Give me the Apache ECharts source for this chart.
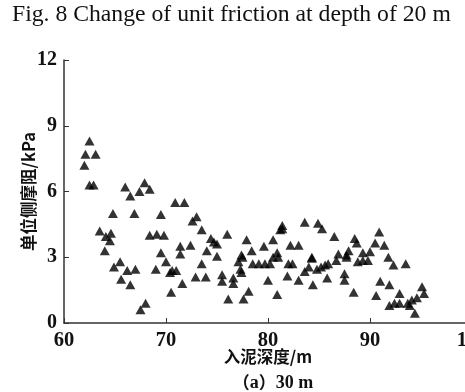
<!DOCTYPE html>
<html>
<head>
<meta charset="utf-8">
<script src="https://cdn.jsdelivr.net/npm/echarts@6/dist/echarts.min.js"></script>
<style>
  html, body { margin: 0; padding: 0; background: #fff; }
  #chart { width: 465px; height: 392px; }
</style>
</head>
<body>
<div id="chart"></div>
<script>
// Penetration depth (m) of each measurement
const depth = [
  62.5, 62.1, 63.1, 62.0, 62.5, 62.9,
  66.0, 66.5, 67.4, 67.9, 68.4,
  64.8, 66.9, 69.5, 70.9, 71.8,
  63.5, 64.1, 64.6, 64.5, 64.0,
  65.5, 64.9, 66.2, 67.0, 65.6, 66.5, 68.0, 67.5,
  68.4, 69.1, 69.8, 69.5, 70.0, 69.0, 70.4, 70.5,
  73.0, 72.6, 73.5, 74.4, 74.7, 75.0, 76.0, 77.9, 79.6, 80.5,
  71.4, 72.4, 74.0, 71.4, 78.4, 77.4, 81.2,
  75.0, 73.5, 70.6, 71.0, 72.9, 73.9, 71.6,
  75.5, 75.5, 76.6, 76.6, 76.1, 77.6, 78.1,
  77.5, 77.1, 77.3, 77.4, 78.5, 79.1, 79.7, 80.2,
  80.5, 80.0, 80.9,
  81.4, 81.4, 83.6, 84.9, 85.3, 86.5, 88.5, 88.7, 90.9, 90.5, 91.4,
  82.2, 83.0, 80.9, 84.3, 86.9, 87.9, 87.7, 89.3, 90.0,
  82.0, 82.4, 81.0, 81.9, 83.0, 84.3, 84.0, 83.6,
  84.8, 85.2, 85.6, 85.9, 84.4, 85.8, 86.7, 87.7,
  87.5, 87.5, 88.8, 89.3, 89.8, 88.4, 91.0, 90.6,
  91.8, 92.3, 93.5, 91.9, 92.9, 91.9, 92.4, 92.9, 93.7, 94.1, 94.6, 95.1, 95.3, 94.4, 93.9
];
// Unit side friction (kPa) at the same positions
const friction = [
  8.3, 7.7, 7.7, 7.2, 6.3, 6.3,
  6.2, 5.8, 6.0, 6.4, 6.1,
  5.0, 5.0, 4.95, 5.5, 5.5,
  4.2, 3.95, 4.1, 3.75, 3.3,
  2.8, 2.55, 2.4, 2.45, 2.0, 1.75, 0.9, 0.6,
  4.0, 4.05, 4.0, 3.2, 2.8, 2.45, 2.3, 1.4,
  4.85, 4.65, 4.25, 3.85, 3.7, 3.6, 4.05, 3.8, 3.5, 3.8,
  3.5, 3.55, 3.3, 3.15, 3.3, 3.1, 4.25,
  3.05, 2.7, 2.4, 2.4, 2.1, 2.1, 1.8,
  2.2, 1.9, 2.05, 1.8, 1.1, 1.1, 1.45,
  3.0, 2.8, 2.45, 2.3, 2.7, 2.7, 2.7, 2.7,
  3.0, 1.95, 1.3,
  4.45, 4.3, 4.6, 4.55, 4.3, 3.95, 3.85, 3.65, 4.15, 3.65, 3.55,
  3.55, 3.55, 3.2, 3.0, 3.15, 3.3, 3.1, 3.2, 3.25,
  2.7, 2.7, 3.0, 2.15, 1.95, 2.95, 2.55, 2.35,
  2.45, 2.55, 2.65, 2.7, 1.75, 2.05, 2.85, 3.0,
  2.25, 1.95, 2.8, 2.85, 2.85, 1.4, 1.9, 1.25,
  3.0, 2.65, 2.7, 1.75, 1.35, 0.8, 0.9, 0.9, 0.9, 1.05, 1.15, 1.65, 1.35, 0.45, 0.8
];

const xTicks = [60, 70, 80, 90, 100];
const yTicks = [0, 3, 6, 9, 12];

const points = depth.map((d, i) => [d, friction[i]]);

const serif = '"Liberation Serif", "Times New Roman", serif';
const cjk = '"Noto Sans CJK SC", "Liberation Serif", serif';

const chart = echarts.init(document.getElementById('chart'), null, { renderer: 'canvas' });
chart.setOption({
  animation: false,
  backgroundColor: '#ffffff',
  title: [
    {
      text: 'Fig. 8 Change of unit friction at depth of 20 m',
      left: 7, top: -2,
      textStyle: { fontFamily: serif, fontSize: 23.7, fontWeight: 'normal', color: '#111' }
    },
    {
      text: '{p|（}{t|a}{p|）}{t|30 m}',
      left: 268, top: 369, textAlign: 'center',
      textStyle: {
        rich: {
          p: { fontFamily: cjk, fontSize: 17, fontWeight: 'bold', color: '#111' },
          t: { fontFamily: serif, fontSize: 18, fontWeight: 'bold', color: '#111' }
        }
      }
    }
  ],
  grid: { left: 64, right: -7, top: 60, bottom: 69, outerBoundsMode: 'none', containLabel: false },
  xAxis: {
    type: 'value',
    min: xTicks[0], max: xTicks[xTicks.length - 1], interval: 10,
    name: '入泥深度/m',
    nameLocation: 'middle', nameGap: 25, nameMoveOverlap: false,
    nameTextStyle: { fontFamily: cjk, fontSize: 16.5, fontWeight: 'bold', color: '#111' },
    axisLine: { lineStyle: { color: '#333', width: 1.5 } },
    axisTick: { inside: true, length: 5, lineStyle: { color: '#333' } },
    axisLabel: { fontFamily: serif, fontSize: 20.5, fontWeight: 'bold', color: '#111', margin: 7, hideOverlap: false },
    splitLine: { show: false }
  },
  yAxis: {
    type: 'value',
    min: yTicks[0], max: yTicks[yTicks.length - 1], interval: 3,
    name: '单位侧摩阻/kPa',
    nameLocation: 'middle', nameGap: 27, nameMoveOverlap: false,
    nameTextStyle: { fontFamily: cjk, fontSize: 16.5, fontWeight: 'bold', color: '#111' },
    axisLine: { show: true, lineStyle: { color: '#333', width: 1.5 } },
    axisTick: { show: true, inside: true, length: 5, lineStyle: { color: '#333' } },
    axisLabel: { fontFamily: serif, fontSize: 20, fontWeight: 'bold', color: '#111', margin: 7 },
    splitLine: { show: false }
  },
  series: [{
    type: 'scatter',
    data: points,
    symbol: 'triangle',
    symbolSize: [10, 9],
    itemStyle: { color: '#000' }
  }]
});
</script>
</body>
</html>
